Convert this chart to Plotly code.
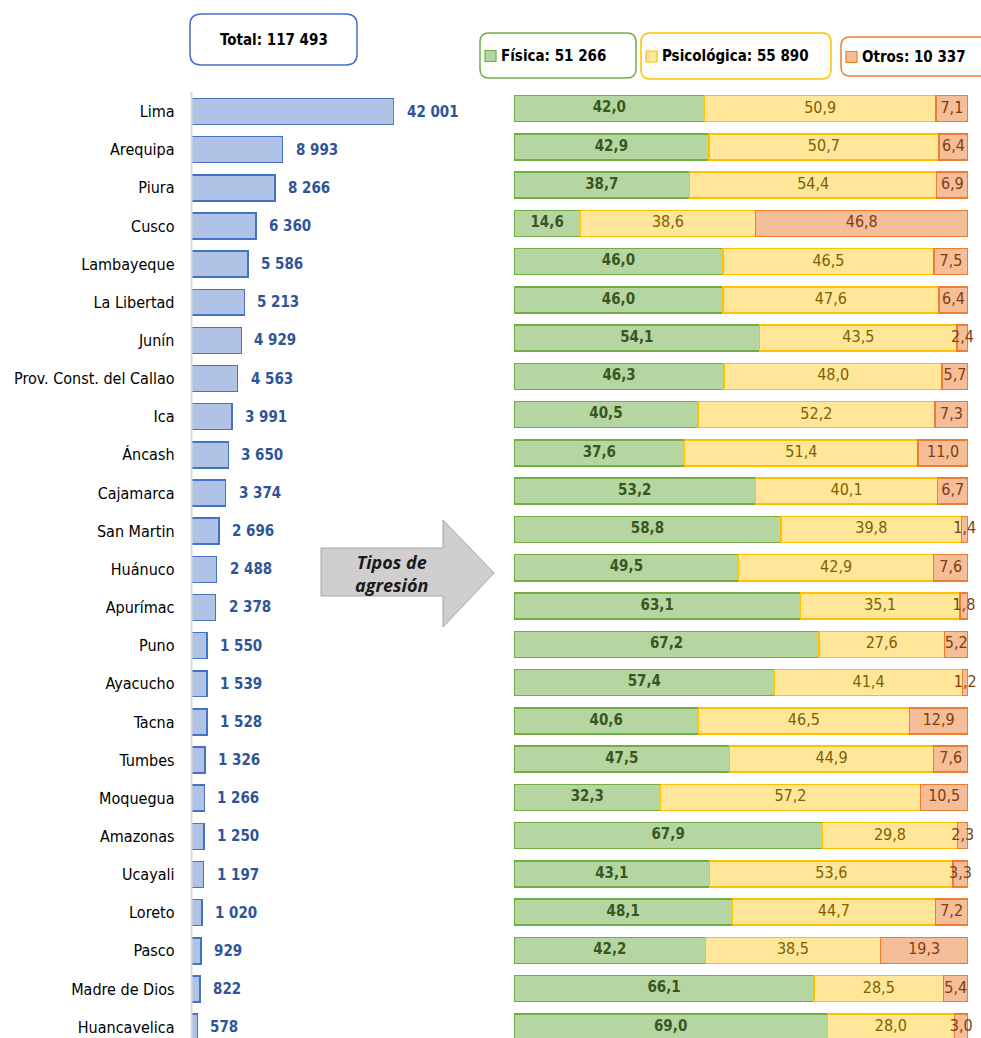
import plotly.graph_objects as go

# ---------------- data ----------------
regions = ["Lima", "Arequipa", "Piura", "Cusco", "Lambayeque", "La Libertad", "Junín",
           "Prov. Const. del Callao", "Ica", "Áncash", "Cajamarca", "San Martin", "Huánuco",
           "Apurímac", "Puno", "Ayacucho", "Tacna", "Tumbes", "Moquegua", "Amazonas",
           "Ucayali", "Loreto", "Pasco", "Madre de Dios", "Huancavelica"]
totals = [42001, 8993, 8266, 6360, 5586, 5213, 4929, 4563, 3991, 3650, 3374, 2696, 2488,
          2378, 1550, 1539, 1528, 1326, 1266, 1250, 1197, 1020, 929, 822, 578]
fisica = [42.0, 42.9, 38.7, 14.6, 46.0, 46.0, 54.1, 46.3, 40.5, 37.6, 53.2, 58.8, 49.5,
          63.1, 67.2, 57.4, 40.6, 47.5, 32.3, 67.9, 43.1, 48.1, 42.2, 66.1, 69.0]
psicologica = [50.9, 50.7, 54.4, 38.6, 46.5, 47.6, 43.5, 48.0, 52.2, 51.4, 40.1, 39.8, 42.9,
               35.1, 27.6, 41.4, 46.5, 44.9, 57.2, 29.8, 53.6, 44.7, 38.5, 28.5, 28.0]
otros = [7.1, 6.4, 6.9, 46.8, 7.5, 6.4, 2.4, 5.7, 7.3, 11.0, 6.7, 1.4, 7.6, 1.8, 5.2, 1.2,
         12.9, 7.6, 10.5, 2.3, 3.3, 7.2, 19.3, 5.4, 3.0]
type_names = ["Física", "Psicológica", "Otros"]
type_totals = [51266, 55890, 10337]
grand_total = 117493

W, H = 981, 1038
NARROW = "Liberation Sans Narrow, Arial Narrow, DejaVu Sans Condensed, sans-serif"


def thousands(v):
    return f"{v:,}".replace(",", " ")


def dec(v):
    return f"{v:.1f}".replace(".", ",")


def px(x):
    return x / W


def py(y):
    return 1 - y / H


def rounded_rect(x0, y0, x1, y1, r):
    pts = [
        f"M {px(x0 + r)},{py(y0)}",
        f"L {px(x1 - r)},{py(y0)}",
        f"Q {px(x1)},{py(y0)} {px(x1)},{py(y0 + r)}",
        f"L {px(x1)},{py(y1 - r)}",
        f"Q {px(x1)},{py(y1)} {px(x1 - r)},{py(y1)}",
        f"L {px(x0 + r)},{py(y1)}",
        f"Q {px(x0)},{py(y1)} {px(x0)},{py(y1 - r)}",
        f"L {px(x0)},{py(y0 + r)}",
        f"Q {px(x0)},{py(y0)} {px(x0 + r)},{py(y0)}",
        "Z",
    ]
    return " ".join(pts)


n = len(regions)
idx = list(range(n))
XMAX = 20000

fig = go.Figure()

# left: totals
fig.add_trace(go.Bar(
    x=totals, y=idx, orientation="h", xaxis="x", yaxis="y", width=0.68,
    marker=dict(color="#B0C2E6", line=dict(color="#4472C4", width=1.5)),
    hoverinfo="skip", showlegend=False,
))

# right: stacked percentages
colors = [("#B5D6A0", "#70AD47", "#385723", True),
          ("#FFE699", "#FFC000", "#7F6000", False),
          ("#F5BE99", "#ED7D31", "#843C0C", False)]
base = [0.0] * n
for name, vals, (fill, line, tcol, bold) in zip(type_names, [fisica, psicologica, otros], colors):
    fig.add_trace(go.Bar(
        x=vals, y=idx, orientation="h", xaxis="x2", yaxis="y2", width=0.68, name=name,
        marker=dict(color=fill, line=dict(color=line, width=1.5)),
        hoverinfo="skip", showlegend=False,
    ))
    mids = [b + v / 2 for b, v in zip(base, vals)]
    txt = [(f"<b>{dec(v)}</b>" if bold else dec(v)) for v in vals]
    fig.add_trace(go.Scatter(
        x=mids, y=idx, mode="text", text=txt, textposition="middle center",
        textfont=dict(family=NARROW, size=15 if bold else 16, color=tcol), xaxis="x2", yaxis="y2",
        cliponaxis=False, hoverinfo="skip", showlegend=False,
    ))
    base = [b + v for b, v in zip(base, vals)]

annotations = []
for i, v in enumerate(totals):
    annotations.append(dict(
        x=min(v, XMAX), y=i, xref="x", yref="y", text=f"<b>{thousands(v)}</b>",
        showarrow=False, xanchor="left", yanchor="middle", xshift=11,
        font=dict(family=NARROW, size=15, color="#2F5597"),
    ))

shapes = []
# left axis line
shapes.append(dict(type="line", xref="paper", yref="paper", x0=px(191.5), x1=px(191.5),
                   y0=py(92), y1=0, line=dict(color="#D9D9D9", width=2), layer="above"))
# closing edge of the truncated first bar
shapes.append(dict(type="line", xref="x", yref="y", x0=XMAX, x1=XMAX, y0=-0.34, y1=0.34,
                   line=dict(color="#4472C4", width=1.5)))

# Total box
shapes.append(dict(type="path", xref="paper", yref="paper",
                   path=rounded_rect(190, 14, 357, 65, 11),
                   line=dict(color="#4472C4", width=1.5), fillcolor="white"))
annotations.append(dict(x=px(273.5), y=py(40), xref="paper", yref="paper",
                        xanchor="center", yanchor="middle",
                        text=f"<b>Total: {thousands(grand_total)}</b>", showarrow=False,
                        font=dict(family=NARROW, size=15, color="#000000")))

# legend boxes
legend_boxes = [(480, 33, 636, 78), (641, 33, 831, 79), (841, 37, 1000, 76)]
for (bx0, by0, bx1, by1), name, tot, (fill, line, tcol, bold) in zip(legend_boxes, type_names, type_totals, colors):
    shapes.append(dict(type="path", xref="paper", yref="paper",
                       path=rounded_rect(bx0, by0, bx1, by1, 9),
                       line=dict(color=line, width=1.5), fillcolor="white"))
    cy = (by0 + by1) / 2
    sx = bx0 + 5
    shapes.append(dict(type="rect", xref="paper", yref="paper",
                       x0=px(sx), x1=px(sx + 11), y0=py(cy - 5), y1=py(cy + 6),
                       fillcolor=fill, line=dict(color=line, width=1.2)))
    annotations.append(dict(x=px(sx + 14), y=py(cy + 0.5), xref="paper", yref="paper",
                            xanchor="left", yanchor="middle",
                            text=f"<b>{name}: {thousands(tot)}</b>", showarrow=False,
                            font=dict(family=NARROW, size=15, color="#000000")))

# arrow
arrow_pts = [(321, 548), (443, 548), (443, 520), (494, 573), (443, 627), (443, 596), (321, 596)]
path = "M " + " L ".join(f"{px(a)},{py(b)}" for a, b in arrow_pts) + " Z"
shapes.append(dict(type="path", xref="paper", yref="paper", path=path,
                   fillcolor="#D0CECE", line=dict(color="#A6A6A6", width=1)))
annotations.append(dict(x=px(391), y=py(573), xref="paper", yref="paper",
                        xanchor="center", yanchor="middle",
                        text="<b><i>Tipos de<br>agresión</i></b>", showarrow=False,
                        align="center",
                        font=dict(family="Open Sans, Lato, sans-serif", size=18, color="#1A1A1A")))

fig.update_layout(
    width=W, height=H, autosize=False,
    margin=dict(l=0, r=0, t=0, b=0),
    paper_bgcolor="white", plot_bgcolor="rgba(0,0,0,0)",
    barmode="stack", bargap=0.32,
    xaxis=dict(domain=[px(191.5), px(394)], range=[0, XMAX], visible=False, fixedrange=True),
    yaxis=dict(domain=[0, 1], range=[(H - 111.5) / 38.15, -111.5 / 38.15],
               tickvals=idx, ticktext=regions, ticks="", showgrid=False, zeroline=False,
               showline=False, ticklabelstandoff=16,
               tickfont=dict(family=NARROW, size=16, color="#000000"), anchor="x"),
    xaxis2=dict(domain=[px(514), px(968)], range=[0, 100], visible=False, anchor="y2"),
    yaxis2=dict(domain=[0, 1], range=[(H - 108.5) / 38.27, -108.5 / 38.27], visible=False,
                anchor="x2"),
    shapes=shapes, annotations=annotations,
    font=dict(family=NARROW),
)

fig.write_html("out.html", config={"displayModeBar": False},
               post_script="document.body.style.margin='0';document.body.style.overflow='hidden';")
